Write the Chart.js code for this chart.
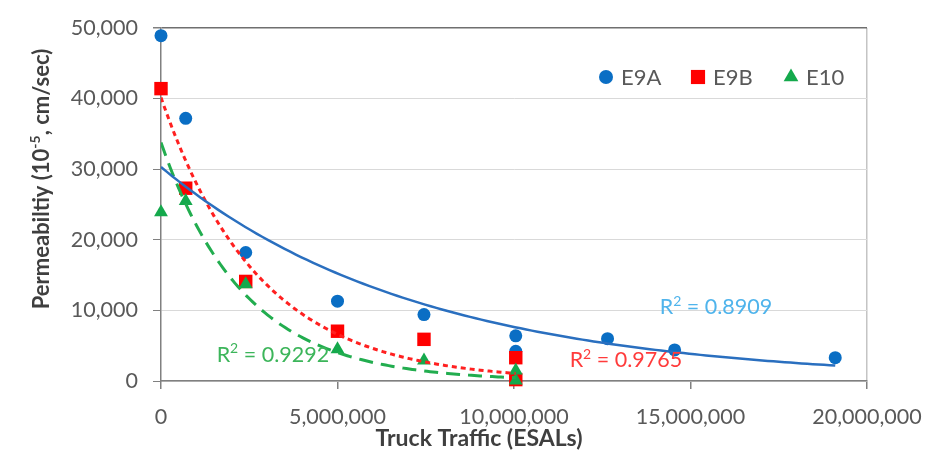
<!DOCTYPE html>
<html>
<head>
<meta charset="utf-8">
<script src="https://cdn.jsdelivr.net/npm/chart.js@4.4.1/dist/chart.umd.min.js"></script>
<style>
  html, body { margin: 0; padding: 0; background: #ffffff; }
  #wrap { width: 941px; height: 452px; }
</style>
</head>
<body>
<div id="wrap"><canvas id="chart" width="941" height="452"></canvas></div>
<script>
// Measured permeability (10^-5 cm/sec) against design truck traffic (ESALs)
const e9aTraffic = [0, 700000, 2400000, 5000000, 7450000, 10050000, 10050000, 12650000, 14550000, 19100000];
const e9aPerm    = [48900, 37200, 18200, 11300, 9400, 6400, 4200, 6000, 4400, 3300];

const e9bTraffic = [0, 700000, 2400000, 5000000, 7450000, 10050000, 10050000];
const e9bPerm    = [41400, 27300, 14100, 7050, 5900, 3300, 200];

const e10Traffic = [0, 700000, 2400000, 5000000, 7450000, 10050000, 10050000];
const e10Perm    = [23900, 25500, 13700, 4500, 2900, 1500, 80];

const seriesNames = ['E9A', 'E9B', 'E10'];
const rSquaredValues = ['0.8909', '0.9765', '0.9292'];

const xTickValues = [0, 5000000, 10000000, 15000000, 20000000];
const yTickValues = [0, 10000, 20000, 30000, 40000, 50000];

const FONT = 'Lato, "Open Sans", "Liberation Sans", sans-serif';
const BLUE = '#0a6ec4', RED = '#ff0000', GREEN = '#14a94c';

// Exponential trendline y = a*e^(b*x), least squares on ln(y)
function expFit(xs, ys) {
  const n = xs.length;
  const ly = ys.map(Math.log);
  const mx = xs.reduce((s, v) => s + v, 0) / n;
  const my = ly.reduce((s, v) => s + v, 0) / n;
  let sxy = 0, sxx = 0;
  for (let i = 0; i < n; i++) {
    sxy += (xs[i] - mx) * (ly[i] - my);
    sxx += (xs[i] - mx) * (xs[i] - mx);
  }
  const b = sxy / sxx;
  return { a: Math.exp(my - b * mx), b };
}
function trendline(xs, ys, steps) {
  const { a, b } = expFit(xs, ys);
  const x0 = Math.min(...xs), x1 = Math.max(...xs);
  const pts = [];
  for (let i = 0; i <= steps; i++) {
    const x = x0 + (x1 - x0) * i / steps;
    pts.push({ x, y: a * Math.exp(b * x) });
  }
  return pts;
}
const toPoints = (xs, ys) => xs.map((x, i) => ({ x, y: ys[i] }));

const markerStyles = [
  { pointStyle: 'circle',   radius: 6.5, color: BLUE },
  { pointStyle: 'rect',     radius: 9.5, color: RED },
  { pointStyle: 'triangle', radius: 8,   color: GREEN }
];

// Legend drawn inside the plot, top right
const legendPlugin = {
  id: 'innerLegend',
  afterDatasetsDraw(chart) {
    const ctx = chart.ctx;
    const items = [
      { mx: 606, tx: 621 },
      { mx: 698, tx: 713 },
      { mx: 791, tx: 806 }
    ];
    const y = 77;
    ctx.save();
    items.forEach((it, i) => {
      const m = markerStyles[i];
      ctx.fillStyle = m.color;
      ctx.strokeStyle = m.color;
      Chart.helpers.drawPoint(ctx, { pointStyle: m.pointStyle, radius: m.radius + 0.5, rotation: 0, borderWidth: 0 }, it.mx, y);
      ctx.fillStyle = '#595959';
      ctx.font = '22px ' + FONT;
      ctx.textAlign = 'left';
      ctx.textBaseline = 'middle';
      ctx.fillText(seriesNames[i], it.tx, y + 1);
    });
    ctx.restore();
  }
};

// R² annotations placed in data coordinates
const rSquaredAnchors = [
  { x: 15720000, y: 10400, color: '#4fb4ec' },
  { x: 13170000, y: 2900,  color: '#ff3b3b' },
  { x: 3170000,  y: 3700,  color: '#3cb55a' }
];
const rSquaredPlugin = {
  id: 'rSquared',
  afterDatasetsDraw(chart) {
    const ctx = chart.ctx;
    const xs = chart.scales.x, ys = chart.scales.y;
    const big = '21.5px ' + FONT, small = '14px ' + FONT;
    ctx.save();
    ctx.textAlign = 'left';
    ctx.textBaseline = 'middle';
    rSquaredAnchors.forEach((a, i) => {
      const parts = [
        { t: 'R', f: big, dy: 0 },
        { t: '2', f: small, dy: -6 },
        { t: ' = ' + rSquaredValues[i], f: big, dy: 0 }
      ];
      let total = 0;
      parts.forEach(p => { ctx.font = p.f; p.w = ctx.measureText(p.t).width; total += p.w; });
      let x = xs.getPixelForValue(a.x) - total / 2;
      const y = ys.getPixelForValue(a.y);
      ctx.fillStyle = a.color;
      parts.forEach(p => { ctx.font = p.f; ctx.fillText(p.t, x, y + p.dy); x += p.w; });
    });
    ctx.restore();
  }
};

// Axis titles (the y title carries a superscript exponent)
const axisTitlePlugin = {
  id: 'axisTitles',
  afterDraw(chart) {
    const ctx = chart.ctx;
    ctx.save();
    ctx.fillStyle = '#3f3f3f';
    ctx.textBaseline = 'middle';

    ctx.font = 'bold 23px ' + FONT;
    ctx.textAlign = 'center';
    ctx.fillText('Truck Traffic (ESALs)', 479, 439);

    const parts = [
      { t: 'Permeabiltiy (10', f: 'bold 22px ' + FONT, dy: 0 },
      { t: '-5', f: 'bold 14px ' + FONT, dy: -7 },
      { t: ', cm/sec)', f: 'bold 22px ' + FONT, dy: 0 }
    ];
    let total = 0;
    parts.forEach(p => { ctx.font = p.f; p.w = ctx.measureText(p.t).width; total += p.w; });
    ctx.translate(42, 179);
    ctx.rotate(-Math.PI / 2);
    ctx.textAlign = 'left';
    let x = -total / 2;
    parts.forEach(p => { ctx.font = p.f; ctx.fillText(p.t, x, p.dy); x += p.w; });
    ctx.restore();
  }
};

const fmt = v => Number(v).toLocaleString('en-US');

new Chart(document.getElementById('chart'), {
  type: 'scatter',
  data: {
    datasets: [
      { label: 'E9A trend', type: 'line', data: trendline(e9aTraffic, e9aPerm, 120),
        borderColor: '#2a6fbf', borderWidth: 2.5, pointRadius: 0, fill: false, order: 0 },
      { label: 'E9B trend', type: 'line', data: trendline(e9bTraffic, e9bPerm, 120),
        borderColor: '#ff2020', borderWidth: 3, borderDash: [5, 4], pointRadius: 0, fill: false, order: 0 },
      { label: 'E10 trend', type: 'line', data: trendline(e10Traffic, e10Perm, 120),
        borderColor: '#22ad4f', borderWidth: 3, borderDash: [14, 8], pointRadius: 0, fill: false, order: 0 },
      { label: seriesNames[2], data: toPoints(e10Traffic, e10Perm), pointStyle: 'triangle', clip: false,
        pointRadius: markerStyles[2].radius, pointBackgroundColor: GREEN, pointBorderWidth: 0, order: 1 },
      { label: seriesNames[1], data: toPoints(e9bTraffic, e9bPerm), pointStyle: 'rect', clip: false,
        pointRadius: markerStyles[1].radius, pointBackgroundColor: RED, pointBorderWidth: 0, order: 2 },
      { label: seriesNames[0], data: toPoints(e9aTraffic, e9aPerm), pointStyle: 'circle', clip: false,
        pointRadius: markerStyles[0].radius, pointBackgroundColor: BLUE, pointBorderWidth: 0, order: 3 }
    ]
  },
  options: {
    responsive: false,
    animation: false,
    layout: { padding: { top: 19, right: 74, left: 0, bottom: 0 } },
    plugins: { legend: { display: false }, tooltip: { enabled: false } },
    scales: {
      x: {
        type: 'linear', min: 0, max: 20000000,
        afterBuildTicks: s => { s.ticks = xTickValues.map(v => ({ value: v })); },
        afterFit: s => { s.height = 71; },
        ticks: { font: { family: FONT, size: 21.5 }, color: '#595959', padding: 15,
                 maxRotation: 0, autoSkip: false, callback: fmt },
        grid: {
          color: c => (c.tick && c.tick.value === 20000000) ? '#c4c4c4' : 'rgba(0,0,0,0)',
          tickColor: '#808080', tickLength: 8, lineWidth: 1.5
        },
        border: { color: '#808080', width: 1.5 }
      },
      y: {
        min: 0, max: 50000,
        afterBuildTicks: s => { s.ticks = yTickValues.map(v => ({ value: v })); },
        afterFit: s => { s.width = 161; },
        ticks: { font: { family: FONT, size: 21.5 }, color: '#595959', padding: 15, callback: fmt },
        grid: {
          color: c => (c.tick && c.tick.value === 50000) ? '#6f6f6f' : '#d9d9d9',
          lineWidth: c => (c.tick && c.tick.value === 50000) ? 1.5 : 1,
          tickColor: '#808080', tickLength: 8
        },
        border: { color: '#808080', width: 1.5 }
      }
    }
  },
  plugins: [legendPlugin, rSquaredPlugin, axisTitlePlugin]
});
</script>
</body>
</html>
